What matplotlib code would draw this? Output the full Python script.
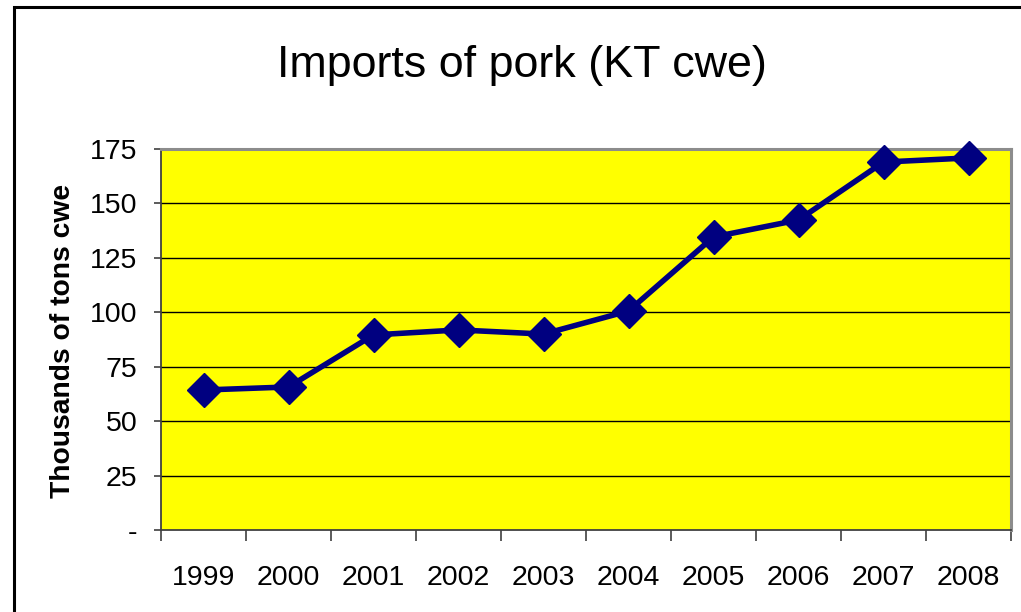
import matplotlib
matplotlib.use("Agg")
import matplotlib.pyplot as plt
from matplotlib.patches import Rectangle

years = ["1999", "2000", "2001", "2002", "2003", "2004", "2005", "2006", "2007", "2008"]
imports_kt = [64.3, 65.7, 89.6, 91.9, 90.0, 100.6, 134.6, 142.4, 169.0, 170.9]
y_ticks = [0, 25, 50, 75, 100, 125, 150, 175]
y_tick_labels = ["-", "25", "50", "75", "100", "125", "150", "175"]

plt.rcParams["font.family"] = ["Liberation Sans", "DejaVu Sans"]

fig = plt.figure(figsize=(10.21, 6.12), dpi=100)
fig.patch.set_facecolor("white")

# outer chart frame
fig.patches.append(Rectangle((14 / 1021, -0.05), 1.2, 1 - 7 / 612 + 0.05,
                             transform=fig.transFigure, fill=False,
                             edgecolor="black", linewidth=2.2))

ax = fig.add_axes([161 / 1021, (612 - 530) / 612, 850 / 1021, 381 / 612])
ax.set_facecolor("#FFFF00")

x = list(range(len(years)))
ax.plot(x, imports_kt, color="#000080", linewidth=4.0, marker="D",
        markersize=17, markerfacecolor="#000080", markeredgecolor="#000080",
        zorder=5, clip_on=False)

ax.set_xlim(-0.5, len(years) - 0.5)
ax.set_ylim(0, 175)
ax.set_yticks(y_ticks)
ax.set_yticklabels(y_tick_labels)
ax.set_xticks([i + 0.5 for i in range(-1, len(years))], minor=False)
ax.set_xticklabels([])
ax.set_xticks(x, minor=True)
ax.set_xticklabels(years, minor=True)

ax.tick_params(axis="x", which="major", length=8, width=1.2, color="#404040", direction="out")
ax.tick_params(axis="x", which="minor", length=0, pad=25, labelsize=20.5)
ax.tick_params(axis="y", length=5, width=1.2, color="#404040", direction="out",
               pad=12, labelsize=20.5)

for v in y_ticks[1:-1]:
    ax.axhline(v, color="black", linewidth=1.0, zorder=1)

for side in ("left", "bottom"):
    ax.spines[side].set_color("#404040")
    ax.spines[side].set_linewidth(1.3)
for side in ("top", "right"):
    ax.spines[side].set_color("#8c8c8c")
    ax.spines[side].set_linewidth(2.2)

fig.text(522 / 1021, 1 - 66 / 612, "Imports of pork (KT cwe)", ha="center",
         va="center", fontsize=32.3)
fig.text(63 / 1021, 1 - 341 / 612, "Thousands of tons cwe", ha="center",
         va="center", rotation=90, fontsize=20.3, fontweight="bold")

fig.savefig("out.png", dpi=100, facecolor="white")
